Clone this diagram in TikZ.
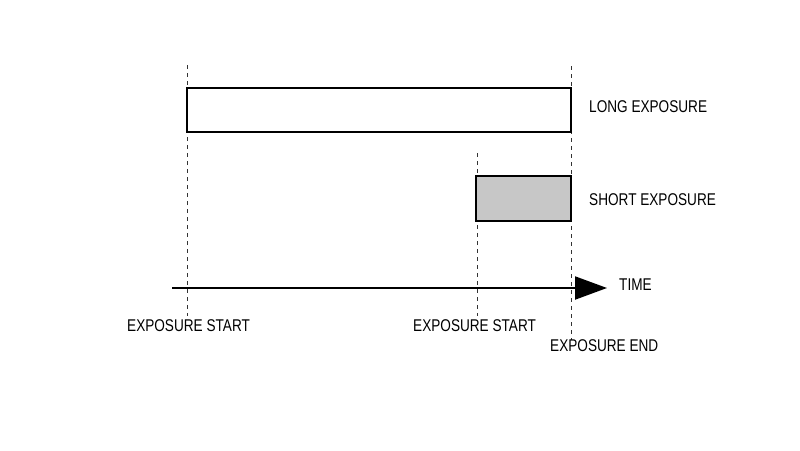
\documentclass[tikz,border=0pt]{standalone}
\usepackage{fontspec}
\setmainfont{Liberation Sans}[FakeStretch=0.8]
\usetikzlibrary{arrows.meta}
\begin{document}
\begin{tikzpicture}[x=1pt,y=-1pt,
  lbl/.style={anchor=base west,inner sep=0pt,font=\fontsize{17}{20}\selectfont},
  guide/.style={draw=black!80,line width=0.9pt,dash pattern=on 4pt off 4pt},
  barbox/.style={draw=black,line width=2pt}]
\useasboundingbox (0,0) rectangle (800,450);
% guides
\coordinate (g1t) at (187,65);  \coordinate (g1b) at (187,316);
\coordinate (g2t) at (477,153); \coordinate (g2b) at (477,316);
\coordinate (g3t) at (571,66);  \coordinate (g3b) at (571,340);
\draw[guide] (g1t) -- (g1b);
\draw[guide] (g2t) -- (g2b);
\draw[guide] (g3t) -- (g3b);
% bars
\draw[barbox] (187,88) rectangle (571,132);
\draw[barbox,fill=black!22] (476,176) rectangle (571,221);
% axis
\coordinate (ax0) at (172,288);
\coordinate (ax1) at (607,288);
\draw[line width=2pt,-{Triangle[length=32pt,width=23pt]}] (ax0) -- (ax1);
% labels
\node[lbl] (long) at (589,112) {LONG EXPOSURE};
\node[lbl] (short) at (589,205) {SHORT EXPOSURE};
\node[lbl] (time) at (619,290.5) {TIME};
\node[lbl] (s1) at (127,331) {EXPOSURE START};
\node[lbl] (s2) at (413,331) {EXPOSURE START};
\node[lbl] (e1) at (550,351.5) {EXPOSURE END};
\end{tikzpicture}
\end{document}
